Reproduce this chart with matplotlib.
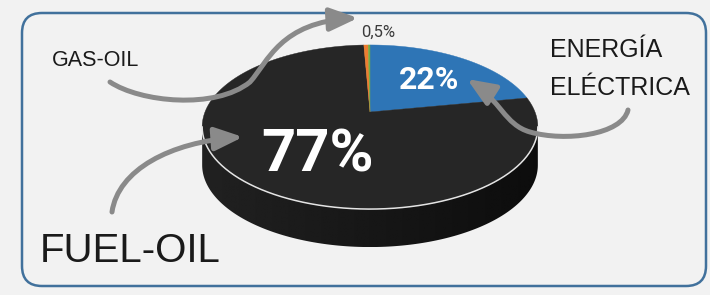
import numpy as np
import matplotlib
matplotlib.use("Agg")
import matplotlib.pyplot as plt
from matplotlib.patches import Polygon, FancyBboxPatch, FancyArrowPatch
from matplotlib.path import Path

# pie data (Excel order, clockwise from 12 o'clock)
categories = ['ENERGÍA ELÉCTRICA', 'FUEL-OIL', 'GAS-OIL', 'OTROS']
values = [22, 77, 0.5, 0.2]
colors = ['#2e75b6', '#262626', '#ed7d31', '#70ad47']
pct_labels = ['22%', '77%', '0,5%']

# 3d pie look (pixel units, y grows downwards)
cx, cy = 370, 112
A, B, k = 165, 79.3, 0.183
depth = 38


def rim(t, dy=0):
    u, v = np.cos(t), np.sin(t)
    return np.column_stack([cx + A * u / (1 + k * v), cy - B * v / (1 + k * v) + dy])


fig = plt.figure(figsize=(7.1, 2.95), dpi=100, facecolor='#f2f2f2')
ax = fig.add_axes([0, 0, 1, 1])
ax.set_xlim(0, 710)
ax.set_ylim(295, 0)
ax.axis('off')

box = FancyBboxPatch((22, 13), 684, 273, boxstyle='round,pad=0,rounding_size=20',
                     fc='#f2f2f2', ec='#41719c', lw=1.8, zorder=0)
ax.add_patch(box)

# side of the cake
t0 = np.pi + np.arcsin(k)
t1 = 2 * np.pi - np.arcsin(k)
tf = np.linspace(t0, t1, 200)
front = rim(tf)
side_pts = np.vstack([front, rim(tf[::-1], depth)])
side = Polygon(side_pts, closed=True, fc='none', ec='none', zorder=1)
ax.add_patch(side)
grad = np.linspace(0.13, 0.05, 256)[None, :]
im = ax.imshow(grad, cmap='gray', vmin=0, vmax=1, aspect='auto', zorder=1,
               extent=(side_pts[:, 0].min(), side_pts[:, 0].max(),
                       side_pts[:, 1].max(), side_pts[:, 1].min()))
im.set_clip_path(side)
ax.set_xlim(0, 710)
ax.set_ylim(295, 0)

# top face slices
fracs = np.array(values) / sum(values)
edges = np.pi / 2 - 2 * np.pi * np.concatenate([[0], np.cumsum(fracs)])
for i, c in enumerate(colors):
    tt = np.linspace(edges[i], edges[i + 1], max(int(400 * fracs[i]), 4))
    pts = np.vstack([[cx, cy], rim(tt)])
    ax.add_patch(Polygon(pts, closed=True, fc=c, ec=c, lw=0.3, zorder=3))

ax.plot(front[:, 0], front[:, 1], color='#e4e4e4', lw=1.1, zorder=4)

# labels
lab = dict(family=['Liberation Sans', 'DejaVu Sans'], color='#1a1a1a', zorder=5)
ax.text(52, 66, 'GAS-OIL', fontsize=15.5, ha='left', va='baseline', **lab)
ax.text(550, 57, 'ENERGÍA', fontsize=18, ha='left', va='baseline', **lab)
ax.text(550, 95, 'ELÉCTRICA', fontsize=18, ha='left', va='baseline', **lab)
ax.text(40, 262, 'FUEL-OIL', fontsize=29, ha='left', va='baseline', **lab)

pct = dict(family=['Roboto', 'DejaVu Sans'], ha='center', va='baseline', zorder=5)
ax.text(429, 89, pct_labels[0], fontsize=23, color='white', weight='bold', **pct)
ax.text(318, 172, pct_labels[1], fontsize=43, color='white', weight='bold', **pct)
ax.text(378, 37, pct_labels[2], fontsize=12, color='#3a3a3a', **pct)

# curved gray arrows
C4 = Path.CURVE4
arrows = [
    ([(110, 82), (140, 102), (215, 110), (250, 82), (268, 62), (280, 22), (358, 18)],
     [Path.MOVETO, C4, C4, C4, C4, C4, C4]),
    ([(112, 212), (118, 170), (170, 142), (243, 137)],
     [Path.MOVETO, C4, C4, C4]),
    ([(628, 110), (622, 135), (565, 142), (530, 132), (505, 125), (500, 100), (467, 79)],
     [Path.MOVETO, C4, C4, C4, C4, C4, C4]),
]
for verts, codes in arrows:
    ar = FancyArrowPatch(path=Path(verts, codes),
                         arrowstyle='-|>,head_length=17,head_width=7',
                         mutation_scale=1, color='#8a8a8a', lw=3.6, zorder=6)
    ax.add_patch(ar)

fig.savefig('out.png', dpi=100, facecolor=fig.get_facecolor())
